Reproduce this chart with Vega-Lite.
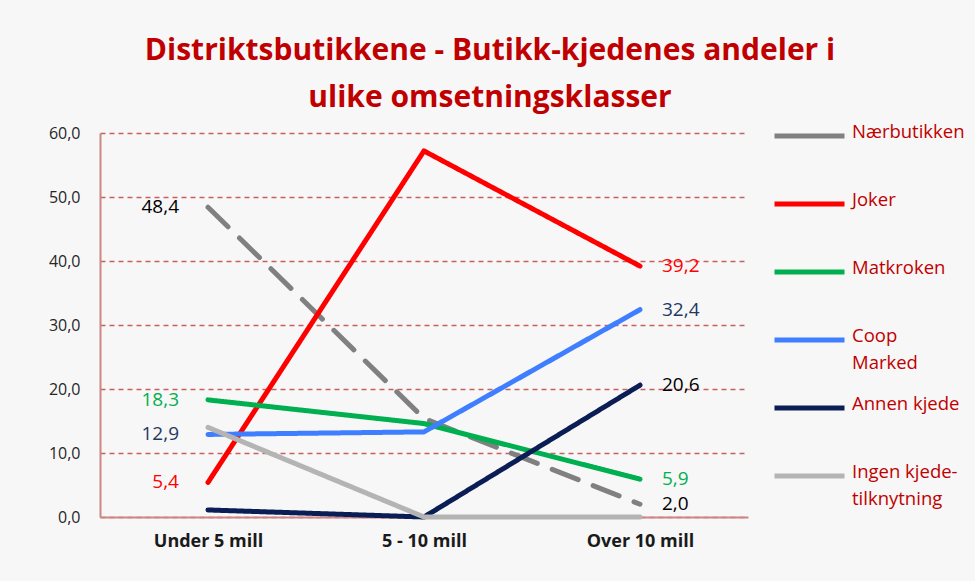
{
  "$schema": "https://vega.github.io/schema/vega-lite/v6.json",
  "width": 648,
  "height": 384,
  "autosize": {"type": "none"},
  "padding": {"left": 100, "top": 133, "right": 227, "bottom": 64},
  "background": "#F7F7F7",
  "config": {
    "view": {"stroke": null},
    "font": "Open Sans",
    "axis": {"gridColor": "#C86060"},
    "axisY": {"gridColor": "#C86060", "gridOpacity": 1, "gridDash": [5, 4], "gridWidth": 1.3},
    "axisQuantitative": {"gridColor": "#C86060"},
    "locale": {"number": {"decimal": ",", "thousands": " ", "grouping": [3], "currency": ["", " kr"]}}
  },
  "title": {
    "text": ["Distriktsbutikkene - Butikk-kjedenes andeler i", "ulike omsetningsklasser"],
    "fontSize": 30,
    "fontWeight": "bold",
    "color": "#C00000",
    "anchor": "middle",
    "frame": "group",
    "dx": 66,
    "offset": 11,
    "lineHeight": 47
  },
  "data": {
    "values": [
      {"cat": "Under 5 mill", "series": "Nærbutikken", "value": 48.4},
      {"cat": "5 - 10 mill", "series": "Nærbutikken", "value": 15.4},
      {"cat": "Over 10 mill", "series": "Nærbutikken", "value": 2.0},
      {"cat": "Under 5 mill", "series": "Joker", "value": 5.4},
      {"cat": "5 - 10 mill", "series": "Joker", "value": 57.2},
      {"cat": "Over 10 mill", "series": "Joker", "value": 39.2},
      {"cat": "Under 5 mill", "series": "Matkroken", "value": 18.3},
      {"cat": "5 - 10 mill", "series": "Matkroken", "value": 14.6},
      {"cat": "Over 10 mill", "series": "Matkroken", "value": 5.9},
      {"cat": "Under 5 mill", "series": "Coop Marked", "value": 12.9},
      {"cat": "5 - 10 mill", "series": "Coop Marked", "value": 13.3},
      {"cat": "Over 10 mill", "series": "Coop Marked", "value": 32.4},
      {"cat": "Under 5 mill", "series": "Annen kjede", "value": 1.1},
      {"cat": "5 - 10 mill", "series": "Annen kjede", "value": 0.0},
      {"cat": "Over 10 mill", "series": "Annen kjede", "value": 20.6},
      {"cat": "Under 5 mill", "series": "Ingen kjede-tilknytning", "value": 14.0},
      {"cat": "5 - 10 mill", "series": "Ingen kjede-tilknytning", "value": 0.0},
      {"cat": "Over 10 mill", "series": "Ingen kjede-tilknytning", "value": 0.0}
    ]
  },
  "encoding": {
    "x": {
      "field": "cat",
      "type": "ordinal",
      "sort": ["Under 5 mill", "5 - 10 mill", "Over 10 mill"],
      "scale": {"type": "point", "padding": 0.5},
      "axis": {
        "title": null,
        "labelAngle": 0,
        "labelFontSize": 18,
        "labelFontWeight": "bold",
        "labelColor": "#1a1a1a",
        "labelPadding": 15,
        "ticks": false,
        "domainColor": "#D08585",
        "domainWidth": 2
      }
    },
    "y": {
      "field": "value",
      "type": "quantitative",
      "scale": {"domain": [0, 60], "nice": false},
      "axis": {
        "title": null,
        "values": [0, 10, 20, 30, 40, 50, 60],
        "format": ".1f",
        "labelFontSize": 16,
        "labelColor": "#262626",
        "labelPadding": 20,
        "ticks": false,
        "domainColor": "#D08585",
        "domainWidth": 2,
        "grid": true,
        "gridColor": "#C86060",
        "gridOpacity": 1,
        "gridDash": [5, 4],
        "gridWidth": 1.3
      }
    }
  },
  "layer": [
    {
      "mark": {"type": "line", "strokeWidth": 5, "strokeCap": "round", "strokeJoin": "round"},
      "encoding": {
        "color": {
          "field": "series",
          "type": "nominal",
          "scale": {
            "domain": ["Nærbutikken", "Joker", "Matkroken", "Coop Marked", "Annen kjede", "Ingen kjede-tilknytning"],
            "range": ["#808080", "#FF0000", "#00B050", "#3F7FFF", "#0A1E55", "#B4B4B4"]
          },
          "legend": {
            "title": null,
            "orient": "none",
            "legendX": 672,
            "legendY": -9,
            "symbolType": "stroke",
            "symbolSize": 4900,
            "symbolStrokeWidth": 5,
            "labelFontSize": 18.5,
            "labelColor": "#C00000",
            "labelOffset": 5,
            "labelBaseline": "top",
            "gridAlign": "all",
            "clipHeight": 24,
            "rowPadding": 22,
            "labelExpr": "datum.label == 'Coop Marked' ? ['Coop', 'Marked'] : datum.label == 'Ingen kjede-tilknytning' ? ['Ingen kjede-', 'tilknytning'] : [datum.label]",
            "encoding": {
              "labels": {"dy": {"value": -13}, "lineHeight": {"value": 27}}
            }
          }
        },
        "strokeDash": {
          "field": "series",
          "type": "nominal",
          "scale": {
            "domain": ["Nærbutikken", "Joker", "Matkroken", "Coop Marked", "Annen kjede", "Ingen kjede-tilknytning"],
            "range": [[28, 16], [1, 0], [1, 0], [1, 0], [1, 0], [1, 0]]
          },
          "legend": null
        }
      }
    },
    {
      "transform": [
        {"filter": "datum.cat == 'Under 5 mill' && indexof(['Nærbutikken', 'Joker', 'Matkroken', 'Coop Marked'], datum.series) >= 0"}
      ],
      "mark": {"type": "text", "align": "right", "dx": -29, "fontSize": 19},
      "encoding": {
        "text": {"field": "value", "type": "quantitative", "format": ".1f"},
        "color": {
          "field": "series",
          "type": "nominal",
          "scale": {
            "domain": ["Nærbutikken", "Joker", "Matkroken", "Coop Marked", "Annen kjede"],
            "range": ["#000000", "#FF0000", "#00B050", "#1F3864", "#000000"]
          },
          "legend": null
        }
      }
    },
    {
      "transform": [
        {"filter": "datum.cat == 'Over 10 mill' && datum.series != 'Ingen kjede-tilknytning'"}
      ],
      "mark": {"type": "text", "align": "left", "dx": 22, "fontSize": 19},
      "encoding": {
        "text": {"field": "value", "type": "quantitative", "format": ".1f"},
        "color": {
          "field": "series",
          "type": "nominal",
          "scale": {
            "domain": ["Nærbutikken", "Joker", "Matkroken", "Coop Marked", "Annen kjede"],
            "range": ["#000000", "#FF0000", "#00B050", "#1F3864", "#000000"]
          },
          "legend": null
        }
      }
    }
  ],
  "resolve": {"scale": {"color": "independent"}}
}
